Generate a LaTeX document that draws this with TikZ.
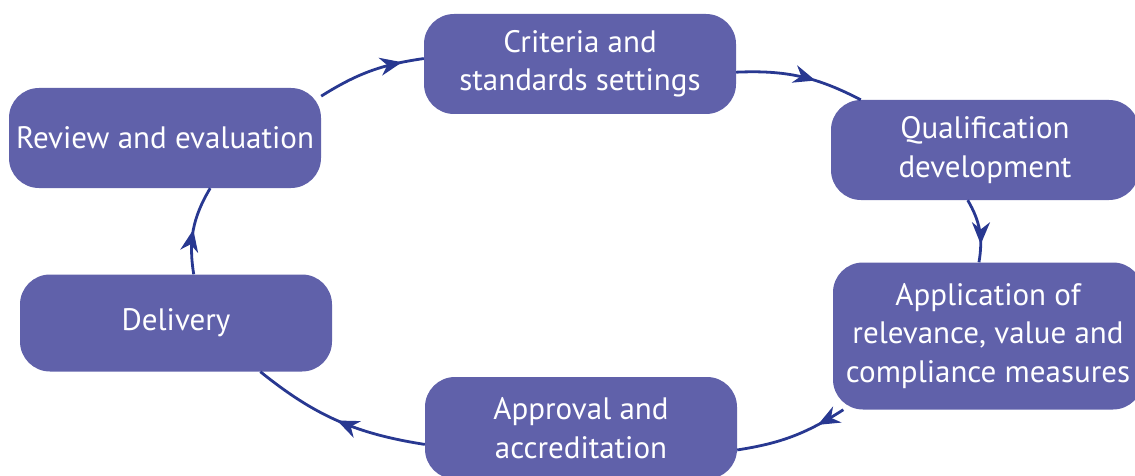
\documentclass[tikz,border=0pt]{standalone}
\usepackage{fontspec}
\setmainfont{PT Sans}
\usetikzlibrary{arrows.meta,decorations.markings}
\definecolor{stepblue}{RGB}{96,97,170}
\definecolor{linkblue}{RGB}{40,56,145}
\tikzset{
    stage/.style = {
        fill = stepblue,
        text = white,
        rounded corners = 30pt,
        minimum width = 312pt,
        minimum height = 100pt,
        align = center,
        inner sep = 0pt,
        font = \fontsize{31}{38.5}\selectfont,
        },
    link/.style = {
        draw = linkblue,
        line width = 2.8pt,
        postaction = {decorate},
        decoration = {markings, mark = at position #1 with {\arrow[linkblue]{Stealth[length=22pt,width=18pt,inset=7pt]}}},
        },
}

\begin{document}
\begin{tikzpicture}[x=1pt, y=1pt]
            \useasboundingbox (0,0) rectangle (1135,475);

            \node[stage] (criteria) at (580,411) {Criteria and\\standards settings};
            \node[stage, minimum width=308pt] (qual) at (985,325) {Qualification\\development};
            \node[stage, minimum width=310pt, minimum height=147pt] (apply) at (988,139) {Application of\\relevance, value and\\compliance measures};
            \node[stage, minimum height=102pt] (approval) at (581,47) {Approval and\\accreditation};
            \node[stage, minimum height=97pt] (delivery) at (176,152) {Delivery};
            \node[stage] (review) at (165,337) {Review and evaluation};

            \draw[link=0.62] (criteria.-3) to[bend left=15] (qual.158);
            \draw[link=0.72] (qual.251) to[bend left=20] (apply.97);
            \draw[link=0.26] (apply.207) to[bend left=12] (approval.-8);
            \draw[link=0.5] (approval.186) to[bend left=15] (delivery.330);
            \draw[link=0.5] (delivery.70) to[bend left=20] (review.312);
            \draw[link=0.8] (review.15.5) to[bend left=12] (criteria.178);
        \end{tikzpicture}
\end{document}
